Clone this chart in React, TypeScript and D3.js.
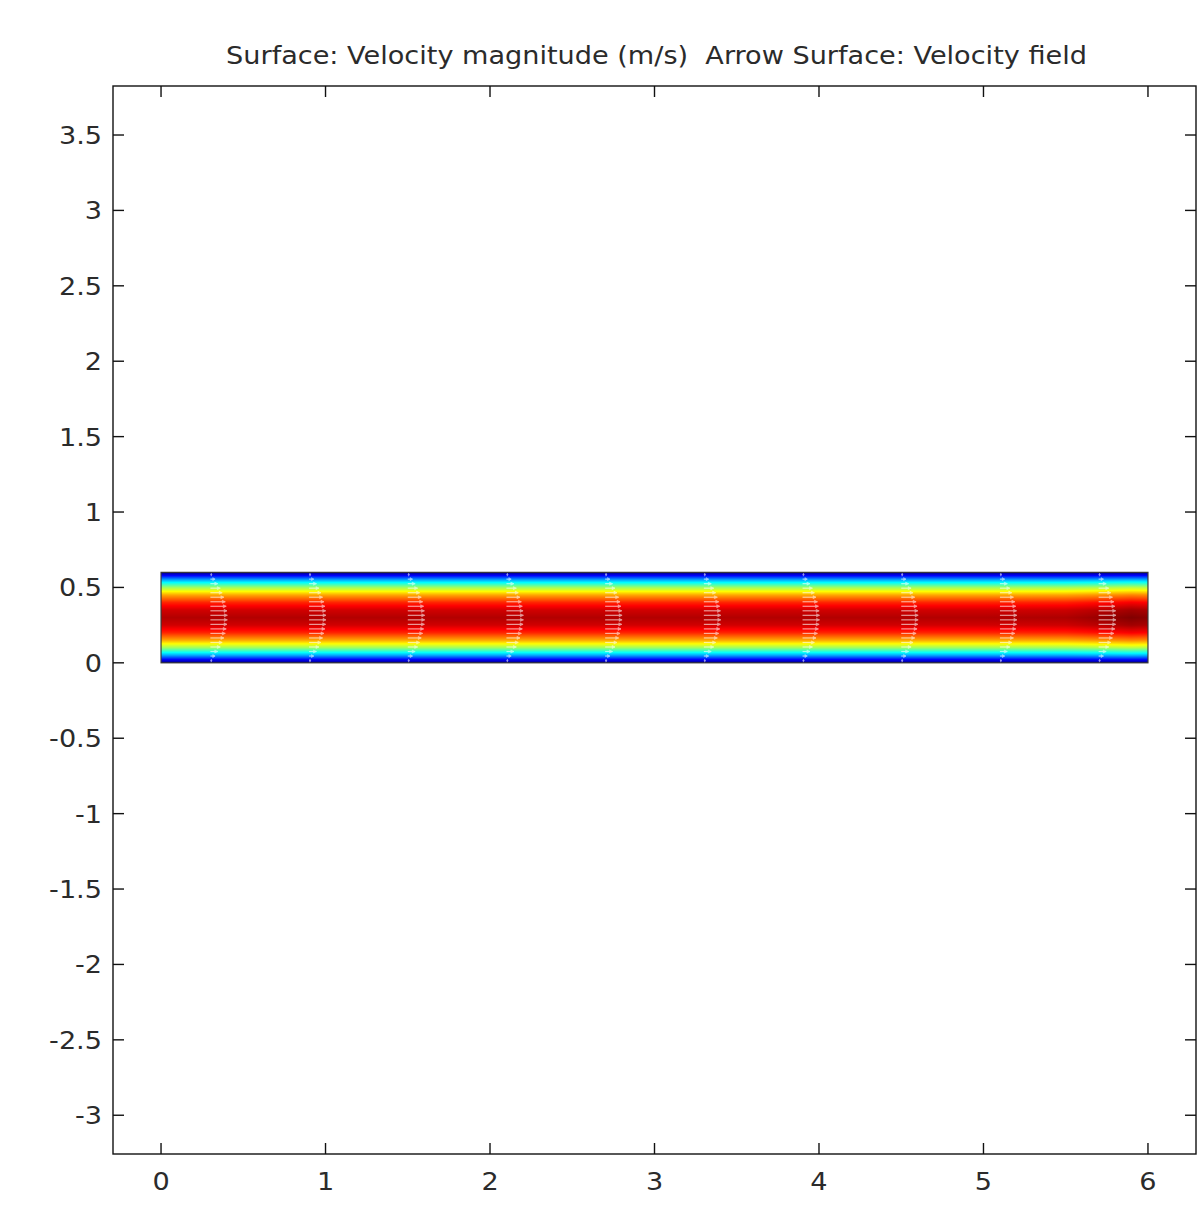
import React from 'react';
import * as d3 from 'd3';

const W = 1203;
const H = 1225;
const frame = { left: 113, top: 86, right: 1196, bottom: 1154 };

// axis ticks
const xTicks = [0, 1, 2, 3, 4, 5, 6];
const yTicks = [3.5, 3, 2.5, 2, 1.5, 1, 0.5, 0, -0.5, -1, -1.5, -2, -2.5, -3];

// channel geometry (m)
const channelX = [0, 6];
const channelY = [0, 0.6];

// normalised velocity magnitude across the channel
const profileY = [0, 0.05, 0.1, 0.15, 0.2, 0.25, 0.3, 0.35, 0.4, 0.45, 0.5, 0.55, 0.6];
const profileSpeed = [0, 0.29, 0.53, 0.71, 0.84, 0.92, 0.95, 0.92, 0.84, 0.71, 0.53, 0.29, 0];

// change of the centreline speed along the channel
const axialX = [0, 1, 2, 3, 4, 5, 5.5, 5.75, 5.9, 6];
const axialFactor = [1, 1, 1, 1, 1, 1, 1.005, 1.03, 1.05, 1.04];

// arrow grid
const arrowX = [0.3, 0.9, 1.5, 2.1, 2.7, 3.3, 3.9, 4.5, 5.1, 5.7];
const arrowY = [0.015, 0.045, 0.075, 0.105, 0.135, 0.165, 0.195, 0.225, 0.255, 0.285,
  0.315, 0.345, 0.375, 0.405, 0.435, 0.465, 0.495, 0.525, 0.555, 0.585];

const FONT = '"DejaVu Sans", Verdana, sans-serif';
const FS = 24;
const SX = 1.13; // plot image is a bit stretched horizontally
const INK = '#2b2b2b';

const x = d3.scaleLinear().domain([-0.292, 6.292]).range([frame.left, frame.right]);
const y = d3.scaleLinear().domain([-3.257, 3.825]).range([frame.bottom, frame.top]);

const speedY = d3.scaleLinear().domain(profileY).range(profileSpeed).clamp(true);
const factorX = d3.scaleLinear().domain(axialX).range(axialFactor).clamp(true);

// jet-like rainbow
const color = d3.scaleLinear<string>()
  .domain([0, 0.125, 0.375, 0.625, 0.875, 1])
  .range(['#00007f', '#0000ff', '#00ffff', '#ffff00', '#ff0000', '#7f0000'])
  .clamp(true);

const arrowLen = d3.scaleLinear().domain([0, 1]).range([0, 18]);

const App = () => {
  const top = Math.floor(y(channelY[1]));
  const bottom = Math.ceil(y(channelY[0]));
  const rows = d3.range(top, bottom);
  const x0 = x(channelX[0]);
  const x1 = x(channelX[1]);

  const label = (tx: number, ty: number, txt: string, anchor: string) => (
    <text
      key={txt + tx + ty}
      transform={`translate(${tx},${ty}) scale(${SX},1)`}
      textAnchor={anchor}
      fontFamily={FONT}
      fontSize={FS}
      fill={INK}
    >
      {txt}
    </text>
  );

  return (
    <div style={{ position: 'absolute', left: 0, top: 0 }}>
      <svg width={W} height={H} style={{ display: 'block', background: '#fff' }}>
        <defs>
          {rows.map((r) => {
            const yv = y.invert(r + 0.5);
            return (
              <linearGradient key={r} id={`row${r}`} gradientUnits="userSpaceOnUse" x1={x0} x2={x1} y1={0} y2={0}>
                {axialX.map((ax) => (
                  <stop
                    key={ax}
                    offset={(ax - channelX[0]) / (channelX[1] - channelX[0])}
                    stopColor={color(speedY(yv) * factorX(ax))}
                  />
                ))}
              </linearGradient>
            );
          })}
        </defs>

        {/* velocity magnitude surface */}
        <g shapeRendering="crispEdges">
          {rows.map((r) => (
            <rect key={r} x={x0} y={r} width={x1 - x0} height={1.05} fill={`url(#row${r})`} />
          ))}
        </g>
        <rect
          x={x0}
          y={y(channelY[1])}
          width={x1 - x0}
          height={y(channelY[0]) - y(channelY[1])}
          fill="none"
          stroke="#3a3a3a"
          strokeWidth={1.2}
        />

        {/* arrow surface */}
        <g stroke="#fff" fill="#fff" opacity={0.6}>
          {arrowX.map((ax) =>
            arrowY.map((ay) => {
              const s = speedY(ay) * factorX(ax);
              const len = arrowLen(s);
              const px = x(ax);
              const py = y(ay);
              const hl = Math.min(3, len * 0.5);
              return (
                <g key={`${ax}-${ay}`}>
                  <line x1={px} x2={px + len} y1={py} y2={py} strokeWidth={1.2} />
                  <path
                    d={`M${px + len},${py} L${px + len - hl},${py - 1.6} L${px + len - hl},${py + 1.6} Z`}
                    strokeWidth={0.5}
                  />
                </g>
              );
            })
          )}
        </g>

        {/* frame */}
        <rect
          x={frame.left}
          y={frame.top}
          width={frame.right - frame.left}
          height={frame.bottom - frame.top}
          fill="none"
          stroke="#111"
          strokeWidth={1.4}
        />

        {/* ticks, pointing inward on all four sides */}
        <g stroke="#111" strokeWidth={1.4}>
          {xTicks.map((t) => (
            <g key={`xt${t}`}>
              <line x1={x(t)} x2={x(t)} y1={frame.bottom} y2={frame.bottom - 11} />
              <line x1={x(t)} x2={x(t)} y1={frame.top} y2={frame.top + 11} />
            </g>
          ))}
          {yTicks.map((t) => (
            <g key={`yt${t}`}>
              <line x1={frame.left} x2={frame.left + 11} y1={y(t)} y2={y(t)} />
              <line x1={frame.right} x2={frame.right - 11} y1={y(t)} y2={y(t)} />
            </g>
          ))}
        </g>

        {xTicks.map((t) => label(x(t), 1190, String(t), 'middle'))}
        {yTicks.map((t) => label(102, y(t) + 9, String(t), 'end'))}

        <text
          transform={`translate(${(frame.left + frame.right) / 2 + 2},64) scale(${SX},1)`}
          textAnchor="middle"
          fontFamily={FONT}
          fontSize={FS}
          fill={INK}
          style={{ whiteSpace: 'pre' }}
        >
          {'Surface: Velocity magnitude (m/s)  Arrow Surface: Velocity field'}
        </text>
      </svg>
    </div>
  );
};

export default App;
